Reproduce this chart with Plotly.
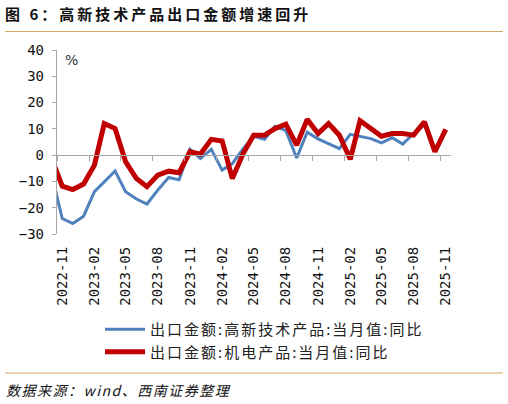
import pandas as pd
import plotly.graph_objects as go

# ---- data ----
months = pd.date_range("2022-10-01", "2025-11-01", freq="MS").strftime("%Y-%m").tolist()

hightech = [-7.0, -24.1, -26.0, -23.2, -13.9, -10.1, -6.0, -13.9, -16.7, -18.6, -13.3,
            -8.5, -9.4, 2.2, -1.3, 2.2, -5.7, -3.2, 2.5, 7.2, 6.0, 11.0, 9.3, -1.1,
            8.7, 6.2, 4.4, 2.5, 7.9, 7.2, 6.3, 4.7, 6.6, 4.2, 8.2, 11.4, 1.9, 9.6]

electro = [-1.0, -11.8, -13.1, -11.0, -3.8, 12.0, 10.1, -2.5, -8.9, -12.0, -7.6,
           -6.1, -6.7, 1.3, 0.4, 6.0, 5.4, -8.9, 0.6, 7.6, 7.6, 10.1, 11.8, 3.8,
           13.6, 8.2, 12.0, 7.6, -1.6, 13.1, 10.1, 7.2, 8.2, 8.2, 7.6, 12.7, 1.3, 9.8]

tick_labels = ["2022-11", "2023-02", "2023-05", "2023-08", "2023-11", "2024-02", "2024-05",
               "2024-08", "2024-11", "2025-02", "2025-05", "2025-08", "2025-11"]

series_names = ["出口金额:高新技术产品:当月值:同比", "出口金额:机电产品:当月值:同比"]
title_text = "图 6：高新技术产品出口金额增速回升"
source_text = "数据来源：wind、西南证券整理"

# ---- derived positions ----
tick_dates = pd.to_datetime(tick_labels)
boundary = [(d - pd.Timedelta(days=15)).strftime("%Y-%m-%d") for d in tick_dates]
x_range = [(pd.Timestamp("2022-11-01") - pd.Timedelta(days=15)).strftime("%Y-%m-%d"),
           (pd.Timestamp("2025-11-01") + pd.Timedelta(days=15)).strftime("%Y-%m-%d")]

BLUE = "#4F81BD"
RED = "#C00000"
GRAY = "#A6A6A6"
TAN = "#D4A76A"

fig = go.Figure()
fig.add_trace(go.Scatter(x=months, y=hightech, mode="lines", name=series_names[0],
                         line=dict(color=BLUE, width=3)))
fig.add_trace(go.Scatter(x=months, y=electro, mode="lines", name=series_names[1],
                         line=dict(color=RED, width=5)))
# helper trace so the zero-line axis is drawn
fig.add_trace(go.Scatter(x=[months[1]], y=[None], xaxis="x2", showlegend=False,
                         hoverinfo="skip", mode="lines"))

W, H = 508, 404
L, R, T, B = 57, 57, 50, 170
pw, ph = W - L - R, H - T - B

def px_x(p):
    return (p - L) / pw

def px_y(p):
    return (H - B - p) / ph

fig.update_layout(
    width=W, height=H,
    margin=dict(l=L, r=R, t=T, b=B),
    paper_bgcolor="white", plot_bgcolor="white",
    showlegend=True,
    title=dict(text="<b>" + title_text + "</b>", xref="container", yref="container",
               x=5 / W, xanchor="left", y=1 - 15 / H, yanchor="middle",
               font=dict(family="Noto Sans CJK SC", size=15, color="#111111")),
    xaxis=dict(type="date", range=x_range, tickvals=tick_labels, ticktext=tick_labels,
               tickangle=-90, ticks="", showline=False, showgrid=False, zeroline=False,
               ticklabelstandoff=9,
               tickfont=dict(family="DejaVu Sans Mono", size=14, color="#111111")),
    xaxis2=dict(type="date", range=x_range, overlaying="x", anchor="free",
                position=30 / 70, side="bottom", tickvals=boundary, ticks="outside",
                ticklen=5, tickcolor=GRAY, tickwidth=1.3, showticklabels=False,
                showline=True, linecolor=GRAY, linewidth=1.3, showgrid=False,
                zeroline=False),
    yaxis=dict(range=[-30, 40], dtick=10, tick0=0, ticks="outside", ticklen=4,
               tickcolor=GRAY, tickwidth=1.3, showline=True, linecolor=GRAY,
               linewidth=1.3, showgrid=False, zeroline=False, ticklabelstandoff=5,
               tickfont=dict(family="DejaVu Sans Mono", size=14, color="#111111")),
    legend=dict(x=px_x(100), y=px_y(313), xanchor="left", yanchor="top",
                bgcolor="rgba(0,0,0,0)", itemwidth=40, tracegroupgap=0,
                font=dict(family="Noto Sans CJK SC", size=15, color="#222222")),
    annotations=[
        dict(text="%", xref="paper", yref="paper", x=px_x(71), y=px_y(60),
             xanchor="center", yanchor="middle",
             showarrow=False, font=dict(family="DejaVu Sans", size=14, color="#333333")),
        dict(text="<i>" + source_text + "</i>", xref="paper", yref="paper",
             x=px_x(4), y=px_y(390), xanchor="left", yanchor="middle", showarrow=False,
             font=dict(family="Noto Sans CJK SC", size=14, color="#111111")),
    ],
    shapes=[
        dict(type="line", xref="paper", yref="paper", x0=px_x(5), x1=px_x(503),
             y0=px_y(31.5), y1=px_y(31.5), line=dict(color=TAN, width=1.2)),
        dict(type="line", xref="paper", yref="paper", x0=px_x(5), x1=px_x(503),
             y0=px_y(373), y1=px_y(373), line=dict(color=TAN, width=1.2)),
    ],
)

# Letter spacing, as in the reference typography
spacing_js = """
var gd = document.getElementById('{plot_id}');
function applySpacing() {
  gd.querySelectorAll('.gtitle').forEach(function (t) { t.style.letterSpacing = '3px'; });
  gd.querySelectorAll('.legend [clip-path]').forEach(function (g) { g.removeAttribute('clip-path'); });
  gd.querySelectorAll('.legendtext').forEach(function (t) { t.style.letterSpacing = '2px'; });
  gd.querySelectorAll('.annotation-text').forEach(function (t) {
    if (t.textContent.indexOf('wind') >= 0 && !t.getAttribute('data-spaced')) {
      var bb = t.getBBox();
      t.setAttribute('text-anchor', 'start');
      t.setAttribute('x', bb.x);
      t.style.letterSpacing = '1.5px';
      t.setAttribute('data-spaced', '1');
    }
  });
}
applySpacing();
gd.on('plotly_afterplot', applySpacing);
"""

fig.write_html("out.html", post_script=spacing_js)
